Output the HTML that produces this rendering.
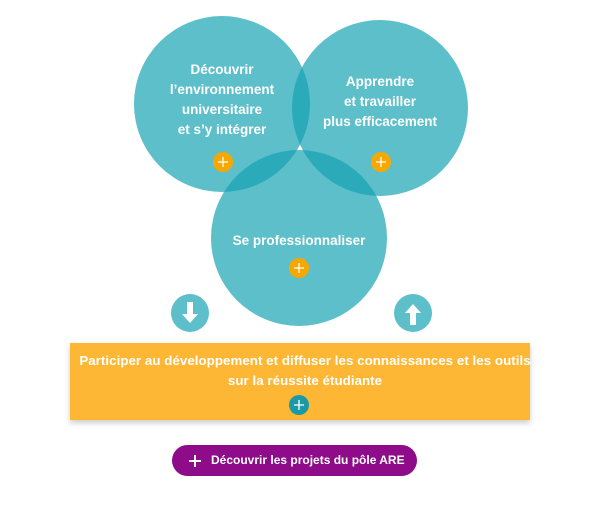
<!DOCTYPE html>
<html><head><meta charset="utf-8"><style>
body{margin:0;width:600px;height:510px;background:#fff;overflow:hidden;position:relative;font-family:"Liberation Sans",sans-serif}
.t{position:absolute;color:#fff;font-weight:bold;text-align:center;font-size:13.5px;line-height:20px}
</style></head><body>
<svg width="600" height="510" style="position:absolute;left:0;top:0">
<defs><filter id="sh" x="-10%" y="-10%" width="120%" height="140%"><feDropShadow dx="0" dy="3" stdDeviation="3" flood-color="#000" flood-opacity="0.2"/></filter></defs>
<g fill="rgba(20,162,178,0.69)">
<circle cx="222" cy="104" r="88"/>
<circle cx="380" cy="108" r="88"/>
<circle cx="299" cy="238" r="88"/>
</g>
<g fill="#f7a800"><circle cx="223" cy="162" r="10"/><circle cx="381" cy="162" r="10"/><circle cx="299" cy="268" r="10"/></g>
<g stroke="#fff" stroke-width="1.3"><path d="M218 162h10M223 157v10M376 162h10M381 157v10M294 268h10M299 263v10"/></g>
<circle cx="190" cy="313" r="19" fill="#5dbfca"/>
<circle cx="413" cy="313" r="19" fill="#5dbfca"/>
<path d="M187 302h6v12h5l-8 9-8-9h5z" fill="#fff"/>
<path d="M410 325h6v-12h5l-8-9-8 9h5z" fill="#fff"/>
<rect x="70" y="343" width="460" height="77" fill="#fdb735" filter="url(#sh)"/>
<circle cx="299" cy="405" r="10" fill="#1a9aa6"/>
<path d="M294 405h10M299 400v10" stroke="#fff" stroke-width="1.3"/>
<rect x="172" y="445" width="245" height="31" rx="15.5" fill="#8e0b8a"/>
<path d="M189 461h12M195 455v12" stroke="#fff" stroke-width="2"/>
</svg>
<div class="t" style="left:147px;top:60px;width:150px">Découvrir<br>l’environnement<br>universitaire<br>et s’y intégrer</div>
<div class="t" style="left:305px;top:72px;width:150px">Apprendre<br>et travailler<br>plus efficacement</div>
<div class="t" style="left:204px;top:231px;width:190px">Se professionnaliser</div>
<div class="t" style="left:70px;top:351px;width:470px;font-size:13.3px;letter-spacing:0.05px">Participer au développement et diffuser les connaissances et les outils<br>sur la réussite étudiante</div>
<div class="t" style="left:211px;top:450px;width:200px;font-size:12px;text-align:left">Découvrir les projets du pôle ARE</div>
</body></html>
